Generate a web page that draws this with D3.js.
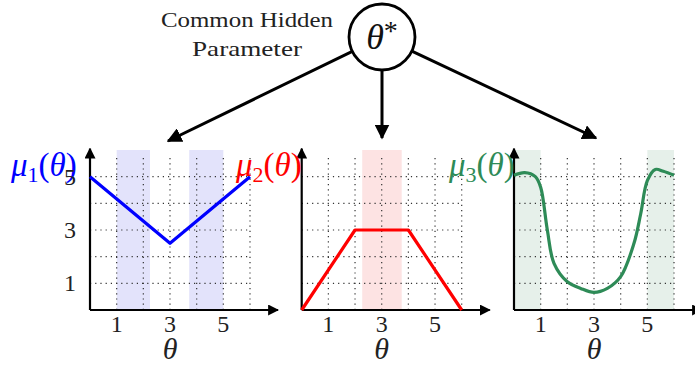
<!DOCTYPE html>
<html>
<head>
<meta charset="utf-8">
<script src="https://cdn.jsdelivr.net/npm/d3@7"></script>
<style>
  body { margin: 0; background: #fff; }
</style>
</head>
<body>
<div id="chart"></div>
<script>
// data
var tickLabels = [1, 3, 5];
var gridX = [1, 2, 3, 4, 5, 6];
var gridY = [1, 2, 3, 4, 5];

var mu1X = [0, 3, 6];
var mu1Y = [5, 2.5, 5];
var mu2X = [0, 2, 4, 6];
var mu2Y = [0, 3, 3, 0];
var mu3X = [0, 0.4, 0.8, 1.0, 1.25, 1.5, 2, 2.5, 3, 3.5, 4, 4.5, 4.75, 5, 5.3, 5.6, 6];
var mu3Y = [5.05, 5.15, 5.0, 4.6, 3.0, 1.75, 1.06, 0.81, 0.66, 0.81, 1.25, 2.5, 3.6, 4.85, 5.27, 5.2, 5.05];

var bands1 = [[1, 2.25], [3.72, 5]];
var bands2 = [[2.27, 3.75]];
var bands3 = [[0, 1], [5, 6]];

var width = 695, height = 366;
var serif = "'Liberation Serif', 'DejaVu Serif', serif";
var svg = d3.select("#chart").append("svg").attr("width", width).attr("height", height)
  .attr("font-family", serif);

var defs = svg.append("defs");
defs.append("marker").attr("id", "arrow").attr("viewBox", "0 0 10 10")
    .attr("refX", 9).attr("refY", 5).attr("markerWidth", 5).attr("markerHeight", 5)
    .attr("markerUnits", "strokeWidth").attr("orient", "auto")
  .append("path").attr("d", "M0,0 L10,5 L0,10 z").attr("fill", "#000");

var panels = [
  {x0: 90, xs: mu1X, ys: mu1Y, bands: bands1, color: "#0000ff", band: "#e3e3fb", label: "1", lx: 11, curve: d3.curveLinear},
  {x0: 301.7, xs: mu2X, ys: mu2Y, bands: bands2, color: "#ff0000", band: "#fde3e3", label: "2", lx: 236, curve: d3.curveLinear},
  {x0: 514, xs: mu3X, ys: mu3Y, bands: bands3, color: "#2e8b57", band: "#e6f0ea", label: "3", lx: 449, curve: d3.curveCatmullRom}
];

var y = d3.scaleLinear().domain([0, 6]).range([310, 150]);

panels.forEach(function(p) {
  var x = d3.scaleLinear().domain([0, 6]).range([p.x0, p.x0 + 160]);
  var g = svg.append("g");

  // shaded bands
  p.bands.forEach(function(b) {
    g.append("rect").attr("x", x(b[0])).attr("y", y(6))
      .attr("width", x(b[1]) - x(b[0])).attr("height", y(0) - y(6))
      .attr("fill", p.band);
  });

  // dotted grid
  gridX.forEach(function(v) {
    g.append("line").attr("x1", x(v)).attr("x2", x(v)).attr("y1", y(0)).attr("y2", y(5.8))
      .attr("stroke", "#333").attr("stroke-width", 1.2).attr("stroke-dasharray", "1.2,4");
  });
  gridY.forEach(function(v) {
    g.append("line").attr("x1", x(0)).attr("x2", x(6)).attr("y1", y(v)).attr("y2", y(v))
      .attr("stroke", "#333").attr("stroke-width", 1.2).attr("stroke-dasharray", "1.2,4");
  });

  // axes with arrows
  g.append("line").attr("x1", x(0)).attr("y1", y(0)).attr("x2", x(7.05)).attr("y2", y(0))
    .attr("stroke", "#000").attr("stroke-width", 2.2).attr("marker-end", "url(#arrow)");
  g.append("line").attr("x1", x(0)).attr("y1", y(0)).attr("x2", x(0)).attr("y2", y(6.05))
    .attr("stroke", "#000").attr("stroke-width", 2.2).attr("marker-end", "url(#arrow)");

  // x tick labels
  tickLabels.forEach(function(t) {
    g.append("text").attr("x", x(t)).attr("y", 332).attr("text-anchor", "middle")
      .attr("font-size", 24).attr("fill", "#222").text(t);
  });
  g.append("text").attr("x", x(3)).attr("y", 359).attr("text-anchor", "middle")
    .attr("font-size", 30).attr("font-style", "italic").attr("fill", "#222").text("θ");

  // series line
  var pts = p.xs.map(function(v, i) { return [v, p.ys[i]]; });
  var line = d3.line().x(function(d) { return x(d[0]); }).y(function(d) { return y(d[1]); }).curve(p.curve);
  g.append("path").datum(pts).attr("d", line).attr("fill", "none")
    .attr("stroke", p.color).attr("stroke-width", 3.2).attr("stroke-linejoin", "round");

  // label mu_i(theta)
  var lab = g.append("text").attr("x", p.lx).attr("y", 176).attr("font-size", 33).attr("fill", p.color);
  lab.append("tspan").attr("font-style", "italic").text("μ");
  lab.append("tspan").attr("font-size", 22).attr("dy", 6).text(p.label);
  lab.append("tspan").attr("dy", -6).text("(");
  lab.append("tspan").attr("font-style", "italic").text("θ");
  lab.append("tspan").text(")");
});

// y tick labels on first panel only
var y1ticks = svg.append("g");
tickLabels.forEach(function(t) {
  y1ticks.append("text").attr("x", 70).attr("y", y(t) + 8).attr("text-anchor", "middle")
    .attr("font-size", 24).attr("fill", "#222").text(t);
});

// hidden parameter node
var cx = 382, cy = 37, r = 33;
svg.append("circle").attr("cx", cx).attr("cy", cy).attr("r", r)
  .attr("fill", "#fff").attr("stroke", "#000").attr("stroke-width", 2.8);
var th = svg.append("text").attr("x", cx).attr("y", cy + 12).attr("text-anchor", "middle")
  .attr("font-size", 36).attr("fill", "#111");
th.append("tspan").attr("font-style", "italic").text("θ");
th.append("tspan").attr("font-size", 28).attr("dy", -9).text("*");

svg.append("text").attr("x", 247).attr("y", 27).attr("text-anchor", "middle")
  .attr("font-size", 21).attr("fill", "#222").attr("textLength", 172).attr("lengthAdjust", "spacingAndGlyphs")
  .text("Common Hidden");
svg.append("text").attr("x", 247).attr("y", 56).attr("text-anchor", "middle")
  .attr("font-size", 21).attr("fill", "#222").attr("textLength", 110).attr("lengthAdjust", "spacingAndGlyphs")
  .text("Parameter");

// arrows from node to panels
var targets = [[168, 141], [382, 138], [596, 138]];
targets.forEach(function(t) {
  var dx = t[0] - cx, dy = t[1] - cy, len = Math.sqrt(dx * dx + dy * dy);
  svg.append("line").attr("x1", cx + r * dx / len).attr("y1", cy + r * dy / len)
    .attr("x2", t[0]).attr("y2", t[1])
    .attr("stroke", "#000").attr("stroke-width", 3).attr("marker-end", "url(#arrow)");
});
</script>
</body>
</html>
